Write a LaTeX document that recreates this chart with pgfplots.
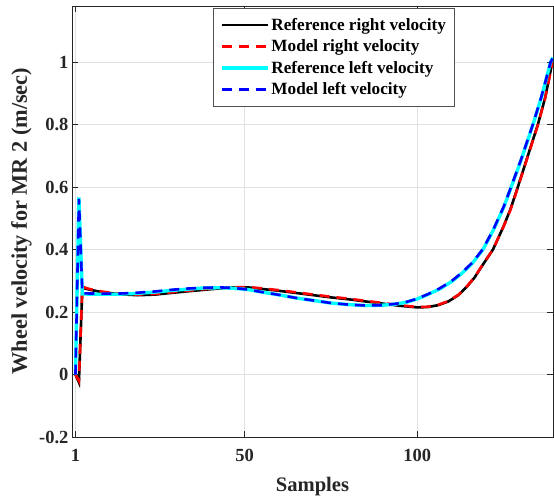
\documentclass[border=0pt]{standalone}
\usepackage{pgfplots}
\pgfplotsset{compat=1.18}
\usepackage{fontspec}
\setmainfont{Liberation Serif}
\definecolor{gridc}{RGB}{225,225,225}
\definecolor{axc}{RGB}{38,38,38}
\definecolor{mcyan}{RGB}{0,255,255}
\definecolor{mblue}{RGB}{0,0,255}
\definecolor{mred}{RGB}{255,0,0}
\begin{document}
\begin{tikzpicture}
\begin{axis}[
  scale only axis,
  width=481pt, height=431pt,
  xmin=0, xmax=139.3,
  ymin=-0.2, ymax=1.18,
  xtick={1,50,100},
  xticklabels={1,50,100},
  ytick={-0.2,0,0.2,0.4,0.6,0.8,1},
  yticklabels={-0.2,0,0.2,0.4,0.6,0.8,1},
  tick align=inside,
  major tick length=6pt,
  tick style={axc, line width=0.8pt},
  axis line style={axc, line width=0.9pt},
  grid=major,
  major grid style={gridc, line width=0.9pt},
  ticklabel style={font=\fontsize{18.5}{18.5}\selectfont\bfseries, text=axc},
  xticklabel style={yshift=-9pt},
  yticklabel style={xshift=0pt},
  xlabel={Samples},
  ylabel={Wheel velocity for MR 2 (m/sec)},
  xlabel style={font=\fontsize{20.6}{20.6}\selectfont\bfseries, text=axc},
  ylabel style={font=\fontsize{22.3}{22.3}\selectfont\bfseries, text=axc},
  xlabel style={at={(axis description cs:0.5,-0.116)}, anchor=center},
  ylabel style={at={(axis description cs:-0.105,0.501)}, anchor=center},
  legend style={at={(0.7954,0.9954)}, anchor=north east, draw=axc!80,
    font=\fontsize{17.2}{18}\selectfont\bfseries, inner xsep=6.5pt, inner ysep=8pt, row sep=4pt,
    cells={anchor=west}},
  legend image code/.code={\draw[#1] (0pt,0pt) -- (46pt,0pt);},
  legend cell align=left,
]
\coordinate (bl) at (rel axis cs:0,0);
\coordinate (tr) at (rel axis cs:1,1);
\addplot[black, line width=2.6pt] coordinates {
(1,0) (2,-0.025) (3,0.278) (5,0.272) (9,0.263) (14,0.257) (19,0.254) (24,0.256) (28.5,0.261) (33,0.266) (38,0.271) (43,0.276) (47,0.279) (51,0.279) (55,0.274) (60,0.268) (65,0.261) (70,0.254) (75,0.247) (80,0.241) (85,0.234) (90,0.227) (95,0.220) (100,0.215) (103,0.216) (106,0.222) (109,0.234) (112,0.255) (114.5,0.283) (116.6,0.311) (119,0.352) (121.9,0.40) (125,0.475) (127,0.53) (129.1,0.60) (132,0.70) (134.9,0.80) (137,0.885) (139.2,1.005)
};
\addlegendentry{Reference right velocity}
\addplot[mred, line width=2.6pt, dash pattern=on 10pt off 7pt] coordinates {
(1,0) (2,-0.02) (3,0.281) (5,0.274) (9,0.265) (14,0.259) (19,0.256) (24,0.258) (28.5,0.263) (33,0.268) (38,0.273) (43,0.278) (47,0.280) (51,0.280) (55,0.276) (60,0.270) (65,0.263) (70,0.256) (75,0.249) (80,0.243) (85,0.236) (90,0.229) (95,0.222) (100,0.216) (103,0.217) (106,0.223) (109,0.235) (112,0.256) (114.5,0.284) (116.6,0.312) (119,0.353) (121.9,0.40) (125,0.474) (127,0.528) (129.1,0.598) (132,0.698) (134.9,0.798) (137,0.884) (139.2,1.0)
};
\addlegendentry{Model right velocity}
\addplot[mcyan, line width=3.4pt] coordinates {
(1,0) (2,0.567) (3,0.258) (8,0.257) (13,0.257) (19,0.260) (24,0.264) (28.5,0.269) (33,0.273) (38,0.277) (43,0.278) (47,0.276) (51,0.272) (55,0.264) (60,0.255) (65,0.245) (70,0.237) (75,0.229) (80,0.224) (85,0.221) (90,0.222) (94,0.226) (97,0.232) (100,0.242) (103,0.256) (106.5,0.274) (110,0.298) (113,0.325) (116,0.357) (119,0.40) (122,0.462) (125,0.535) (127.2,0.60) (130,0.685) (133.5,0.80) (136,0.89) (138.6,1.0) (139.2,1.015)
};
\addlegendentry{Reference left velocity}
\addplot[mblue, line width=2.6pt, dash pattern=on 10pt off 7pt] coordinates {
(1,0) (2,0.562) (3,0.260) (8,0.259) (13,0.259) (19,0.262) (24,0.266) (28.5,0.271) (33,0.275) (38,0.278) (43,0.279) (47,0.277) (51,0.272) (55,0.264) (60,0.255) (65,0.245) (70,0.237) (75,0.229) (80,0.224) (85,0.221) (90,0.222) (94,0.227) (97,0.233) (100,0.243) (103,0.257) (106.5,0.276) (110,0.300) (113,0.327) (116,0.359) (119,0.402) (122,0.464) (125,0.537) (127.2,0.602) (130,0.687) (133.5,0.802) (136,0.892) (138.6,1.0) (139.2,1.012)
};
\addlegendentry{Model left velocity}
\end{axis}
\pgfresetboundingbox
\path ([xshift=-72pt,yshift=-64pt]bl) rectangle ([xshift=1pt,yshift=6pt]tr);
\end{tikzpicture}
\end{document}
